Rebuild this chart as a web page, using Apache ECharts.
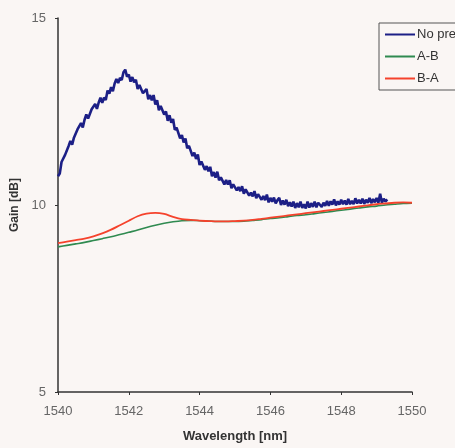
<!DOCTYPE html>
<html>
<head>
<meta charset="utf-8">
<script src="https://cdn.jsdelivr.net/npm/echarts@6/dist/echarts.min.js"></script>
<style>
  html, body { margin: 0; padding: 0; background: #faf6f4; }
  #chart { width: 455px; height: 448px; }
</style>
</head>
<body>
<div id="chart"></div>
<script>
// Gain trace without preamplifier: sampled every 0.05 nm starting at 1540 nm
const noPreStart = 1540;
const noPreStep = 0.05;
const gainNoPre = [
  10.77,10.84,11.15,11.13,11.34,11.31,11.58,11.71,11.61,11.80,
  11.75,12.02,11.98,12.19,12.07,12.28,12.42,12.31,12.33,12.56,
  12.52,12.70,12.57,12.74,12.87,12.73,12.87,12.81,13.06,12.98,
  13.15,13.04,13.25,13.37,13.26,13.40,13.34,13.55,13.62,13.43,
  13.49,13.30,13.42,13.28,13.35,13.10,13.21,13.23,12.99,13.04,
  13.10,12.83,12.94,12.80,12.94,12.69,12.80,12.53,12.65,12.66,
  12.42,12.50,12.25,12.40,12.20,12.30,12.01,12.07,12.08,11.78,
  11.87,11.67,11.78,11.52,11.58,11.61,11.31,11.40,11.23,11.35,
  11.07,11.16,11.18,10.94,11.04,10.90,11.02,10.77,10.88,10.73,
  10.89,10.66,10.74,10.77,10.55,10.67,10.55,10.66,10.45,10.55,
  10.57,10.39,10.48,10.37,10.50,10.30,10.42,10.46,10.25,10.33,
  10.23,10.37,10.18,10.29,10.32,10.14,10.24,10.13,10.28,10.07,
  10.19,10.09,10.20,10.04,10.13,10.19,10.00,10.12,10.01,10.14,
  9.97,10.07,9.96,10.09,9.92,10.05,9.94,10.09,9.92,10.02,
  9.91,10.09,9.93,10.05,9.95,10.09,9.94,10.06,10.11,9.95,
  10.06,9.98,10.11,9.98,10.10,10.01,10.15,9.99,10.10,10.01,
  10.14,10.02,10.12,10.01,10.16,10.02,10.11,10.02,10.18,10.04,
  10.14,10.04,10.17,10.03,10.14,10.06,10.19,10.05,10.16,10.07,
  10.19,10.06,10.30,10.06,10.17,10.09,10.15
];
// Wavelength samples (nm) for the two preamplified configurations
const wlPre = [
  1540.0,1540.25,1540.5,1540.75,1541.0,1541.25,1541.5,1541.75,1542.0,1542.25,
  1542.5,1542.75,1543.0,1543.25,1543.5,1543.75,1544.0,1544.25,1544.5,1544.75,
  1545.0,1545.25,1545.5,1545.75,1546.0,1546.25,1546.5,1546.75,1547.0,1547.25,
  1547.5,1547.75,1548.0,1548.25,1548.5,1548.75,1549.0,1549.25,1549.5,1549.75,
  1550.0
];
// Gain (dB), A-B order
const gainAB = [
  8.88,8.92,8.96,9.00,9.05,9.10,9.15,9.21,9.27,9.33,
  9.40,9.46,9.51,9.55,9.58,9.59,9.58,9.57,9.56,9.56,
  9.56,9.57,9.59,9.61,9.64,9.66,9.69,9.72,9.74,9.77,
  9.80,9.83,9.86,9.89,9.92,9.95,9.97,10.00,10.02,10.04,
  10.05
];
// Gain (dB), B-A order
const gainBA = [
  8.98,9.02,9.06,9.10,9.16,9.24,9.34,9.46,9.58,9.70,
  9.77,9.79,9.76,9.68,9.62,9.60,9.58,9.57,9.56,9.56,
  9.57,9.58,9.60,9.63,9.66,9.69,9.72,9.75,9.78,9.81,
  9.84,9.87,9.90,9.93,9.96,9.99,10.02,10.04,10.06,10.07,
  10.06
];
const seriesNames = ['No preamp', 'A-B', 'B-A'];
const xTicks = [1540, 1542, 1544, 1546, 1548, 1550];
const yTicks = [5, 10, 15];

const noPrePoints = gainNoPre.map((g, i) => [+(noPreStart + i * noPreStep).toFixed(2), g]);
const zip = (xs, ys) => xs.map((x, i) => [x, ys[i]]);

const chart = echarts.init(document.getElementById('chart'), null, { renderer: 'canvas' });
const font = 'Liberation Sans, Arial, sans-serif';

chart.setOption({
  backgroundColor: '#faf6f4',
  animation: false,
  textStyle: { fontFamily: font },
  grid: { left: 58, right: 43, top: 18, bottom: 56, containLabel: false, outerBoundsMode: 'none' },
  legend: {
    orient: 'vertical',
    left: 379,
    top: 23,
    data: seriesNames,
    icon: 'path://M0,0 L30,0 L30,2 L0,2 Z',
    itemWidth: 30,
    itemHeight: 2,
    itemGap: 9,
    padding: [5, 6, 5, 6],
    borderColor: '#555',
    borderWidth: 1,
    textStyle: { fontFamily: font, fontSize: 13, color: '#333', padding: [0, 0, 0, -3] }
  },
  xAxis: {
    type: 'value',
    min: xTicks[0],
    max: xTicks[xTicks.length - 1],
    interval: 2,
    name: 'Wavelength [nm]',
    nameLocation: 'middle',
    nameGap: 38,
    nameTextStyle: { fontFamily: font, fontSize: 13, fontWeight: 'bold', color: '#333' },
    axisLine: { lineStyle: { color: '#333', width: 1.5 } },
    axisTick: { show: true, length: 3, lineStyle: { color: '#333' } },
    axisLabel: { fontFamily: font, fontSize: 13, color: '#666', margin: 13, formatter: v => String(v) },
    splitLine: { show: false }
  },
  yAxis: {
    type: 'value',
    min: yTicks[0],
    max: yTicks[yTicks.length - 1],
    interval: 5,
    name: 'Gain [dB]',
    nameLocation: 'middle',
    nameGap: 31,
    nameRotate: 90,
    nameTextStyle: { fontFamily: font, fontSize: 12, fontWeight: 'bold', color: '#333' },
    axisLine: { show: true, lineStyle: { color: '#333', width: 1.5 } },
    axisTick: { show: true, length: 3, lineStyle: { color: '#333' } },
    axisLabel: { fontFamily: font, fontSize: 13, color: '#666', margin: 12 },
    splitLine: { show: false }
  },
  series: [
    {
      name: seriesNames[0],
      type: 'line',
      data: noPrePoints,
      showSymbol: false,
      color: '#1c1f86',
      lineStyle: { width: 2.6, color: '#1c1f86' }
    },
    {
      name: seriesNames[1],
      type: 'line',
      data: zip(wlPre, gainAB),
      showSymbol: false,
      smooth: 0.3,
      color: '#2f8a50',
      lineStyle: { width: 1.6, color: '#2f8a50' }
    },
    {
      name: seriesNames[2],
      type: 'line',
      data: zip(wlPre, gainBA),
      showSymbol: false,
      smooth: 0.3,
      color: '#f5422c',
      lineStyle: { width: 1.8, color: '#f5422c' }
    }
  ]
});
</script>
</body>
</html>
